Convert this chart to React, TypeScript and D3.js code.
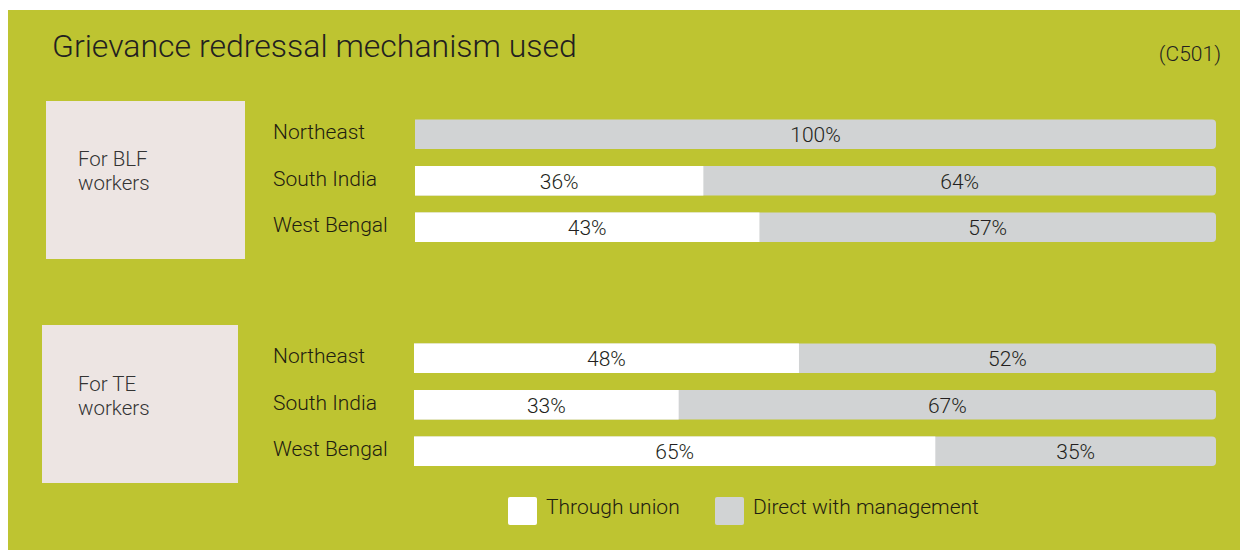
import React from "react";
import * as d3 from "d3";

const regions = ["Northeast", "South India", "West Bengal"];
const groups = ["For BLF workers", "For TE workers"];
const throughUnion = [
  [0, 36, 43],
  [48, 33, 65],
];
const directMgmt = [
  [100, 64, 57],
  [52, 67, 35],
];
const seriesNames = ["Through union", "Direct with management"];
const seriesColors = ["#FFFFFF", "#D1D3D4"];

const W = 1240;
const H = 550;
const BG = "#BEC431";
const BOX = "#EDE5E3";
const INK = "#231F20";
const FONT = "Roboto, 'Noto Sans', sans-serif";

// layout per group: label box and rows
const groupLayout = [
  { box: [46, 101, 199, 158], lines: ["For BLF", "workers"], textY: 166, barX0: 415, rowTop: 119.5 },
  { box: [42, 325, 196, 158], lines: ["For TE", "workers"], textY: 391, barX0: 414, rowTop: 343.5 },
];

function roundedRight(x0: number, y: number, w: number, h: number, r: number) {
  const p = d3.path();
  p.moveTo(x0, y);
  p.lineTo(x0 + w - r, y);
  p.arcTo(x0 + w, y, x0 + w, y + r, r);
  p.lineTo(x0 + w, y + h - r);
  p.arcTo(x0 + w, y + h, x0 + w - r, y + h, r);
  p.lineTo(x0, y + h);
  p.closePath();
  return p.toString();
}

export default function App() {
  const barH = 29.5;
  const step = 46.5;

  return (
    <svg
      width={W}
      height={H}
      style={{ position: "absolute", left: 0, top: 0 }}
      fontFamily={FONT}
    >
      <rect x={8} y={10} width={W - 8} height={H - 10} fill={BG} />
      <text x={52} y={57} fontSize={32} fontWeight={300} fill={INK}>
        Grievance redressal mechanism used
      </text>
      <text x={1221} y={61} fontSize={21} fontWeight={300} fill={INK} textAnchor="end">
        (C501)
      </text>

      {groupLayout.map((g, gi) => {
        const x = d3.scaleLinear().domain([0, 100]).range([g.barX0, 1216]);
        const y = d3
          .scaleBand<string>()
          .domain(regions)
          .range([g.rowTop, g.rowTop + step * 2 + barH])
          .paddingInner(1 - barH / step)
          .paddingOuter(0);
        return (
          <g key={groups[gi]}>
            <rect x={g.box[0]} y={g.box[1]} width={g.box[2]} height={g.box[3]} fill={BOX} />
            {g.lines.map((l, li) => (
              <text key={l} x={78} y={g.textY + li * 24} fontSize={20.5} fontWeight={300} fill="#333">
                {l}
              </text>
            ))}
            {regions.map((r, ri) => {
              const u = throughUnion[gi][ri];
              const m = directMgmt[gi][ri];
              const y0 = y(r) as number;
              const bh = y.bandwidth();
              const cy = y0 + bh / 2;
              return (
                <g key={r}>
                  <text x={273} y={cy + 5} fontSize={21} fontWeight={300} fill="#1E2010">
                    {r}
                  </text>
                  <path d={roundedRight(x(0), y0, x(100) - x(0), bh, 4)} fill={seriesColors[1]} />
                  {u > 0 && (
                    <rect x={x(0)} y={y0} width={x(u) - x(0)} height={bh} fill={seriesColors[0]} />
                  )}
                  {u > 0 && (
                    <text x={(x(0) + x(u)) / 2} y={cy + 8} fontSize={21} fontWeight={300} fill={INK} textAnchor="middle">
                      {u}%
                    </text>
                  )}
                  <text x={(x(u) + x(u + m)) / 2} y={cy + 8} fontSize={21} fontWeight={300} fill={INK} textAnchor="middle">
                    {m}%
                  </text>
                </g>
              );
            })}
          </g>
        );
      })}

      {seriesNames.map((s, i) => {
        const lx = [508, 715][i];
        return (
          <g key={s}>
            <rect x={lx} y={497} width={29} height={28} rx={2} fill={seriesColors[i]} />
            <text x={lx + 38} y={514} fontSize={21} fontWeight={300} fill="#1E2010">
              {s}
            </text>
          </g>
        );
      })}
    </svg>
  );
}
